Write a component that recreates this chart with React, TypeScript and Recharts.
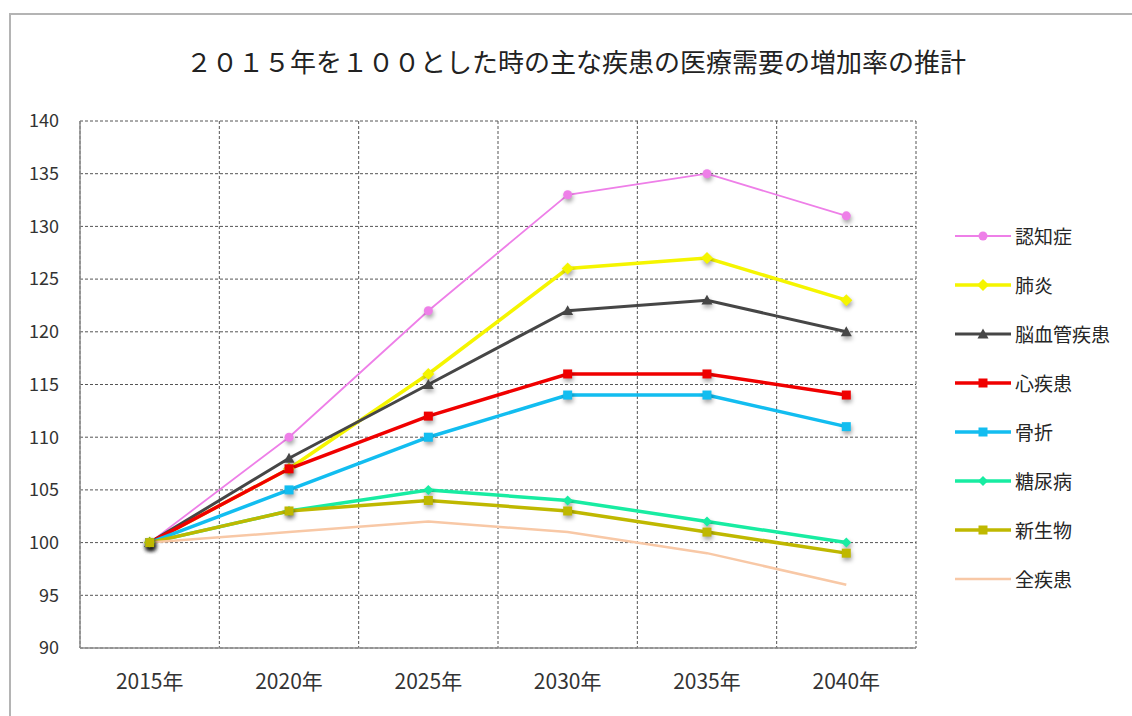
import { CartesianGrid, Line, LineChart, XAxis, YAxis } from 'recharts'

// 2015年を100とした指数
const years = ['2015年', '2020年', '2025年', '2030年', '2035年', '2040年']
const dementia = [100, 110, 122, 133, 135, 131]
const pneumonia = [100, 107, 116, 126, 127, 123]
const cerebrovascular = [100, 108, 115, 122, 123, 120]
const heart = [100, 107, 112, 116, 116, 114]
const fracture = [100, 105, 110, 114, 114, 111]
const diabetes = [100, 103, 105, 104, 102, 100]
const neoplasm = [100, 103, 104, 103, 101, 99]
const allDiseases = [100, 101, 102, 101, 99, 96]
const yTicks = [90, 95, 100, 105, 110, 115, 120, 125, 130, 135, 140]

const FONT = '"Noto Sans CJK JP", "Noto Sans", sans-serif'

type Marker = 'circle' | 'diamond' | 'triangle' | 'square' | 'none'

const SERIES: { key: string; name: string; values: number[]; color: string; width: number; marker: Marker; size: number }[] = [
  { key: 'dementia', name: '認知症', values: dementia, color: '#ee7fe8', width: 1.8, marker: 'circle', size: 4.5 },
  { key: 'pneumonia', name: '肺炎', values: pneumonia, color: '#f5f500', width: 3.5, marker: 'diamond', size: 6 },
  { key: 'cerebrovascular', name: '脳血管疾患', values: cerebrovascular, color: '#464646', width: 3, marker: 'triangle', size: 5.5 },
  { key: 'heart', name: '心疾患', values: heart, color: '#f00000', width: 3.5, marker: 'square', size: 4.5 },
  { key: 'fracture', name: '骨折', values: fracture, color: '#12bdf0', width: 3.5, marker: 'square', size: 4.5 },
  { key: 'diabetes', name: '糖尿病', values: diabetes, color: '#18eca2', width: 3.5, marker: 'diamond', size: 5 },
  { key: 'neoplasm', name: '新生物', values: neoplasm, color: '#bfb800', width: 3.5, marker: 'square', size: 4.5 },
  { key: 'all', name: '全疾患', values: allDiseases, color: '#f8c8a6', width: 2.5, marker: 'none', size: 0 },
]

const data = years.map((year, i) => {
  const row: Record<string, string | number> = { year }
  SERIES.forEach((s) => {
    row[s.key] = s.values[i]
  })
  return row
})

function markerShape(marker: Marker, cx: number, cy: number, r: number, color: string, key?: string) {
  switch (marker) {
    case 'circle':
      return <circle key={key} cx={cx} cy={cy} r={r} fill={color} />
    case 'diamond':
      return (
        <polygon
          key={key}
          points={`${cx},${cy - r} ${cx + r},${cy} ${cx},${cy + r} ${cx - r},${cy}`}
          fill={color}
        />
      )
    case 'triangle':
      return (
        <polygon
          key={key}
          points={`${cx},${cy - r} ${cx + r},${cy + r * 0.8} ${cx - r},${cy + r * 0.8}`}
          fill={color}
        />
      )
    case 'square':
      return <rect key={key} x={cx - r} y={cy - r} width={r * 2} height={r * 2} fill={color} />
    default:
      return <g key={key} />
  }
}

function makeDot(s: (typeof SERIES)[number]) {
  return (props: any) => {
    const { cx, cy, index } = props
    const key = `${s.key}-${index}`
    if (s.marker === 'none' || cx == null || cy == null) return <g key={key} />
    return (
      <g key={key} style={{ filter: 'drop-shadow(1px 3px 2px rgba(0,0,0,0.35))' }}>
        {markerShape(s.marker, cx, cy, s.size, s.color)}
      </g>
    )
  }
}

// 凡例はグラフの右側に縦並びで置く
function LegendBox() {
  return (
    <div style={{ position: 'absolute', left: 955, top: 211, width: 177, fontFamily: FONT }}>
      {SERIES.map((s) => (
        <div key={s.key} style={{ display: 'flex', alignItems: 'center', height: 49 }}>
          <svg width={58} height={16} style={{ overflow: 'visible' }}>
            <line x1={0} x2={56} y1={8} y2={8} stroke={s.color} strokeWidth={s.width} />
            {markerShape(s.marker, 28, 8, s.size, s.color)}
          </svg>
          <span style={{ fontSize: 19, color: '#262626', marginLeft: 2 }}>{s.name}</span>
        </div>
      ))}
    </div>
  )
}

export default function App() {
  return (
    <div
      style={{
        position: 'absolute',
        left: 0,
        top: 0,
        width: 1132,
        height: 716,
        overflow: 'hidden',
        background: '#fff',
        fontFamily: FONT,
      }}
    >
      <div
        style={{
          position: 'absolute',
          left: 9,
          top: 13,
          width: 1300,
          height: 900,
          borderLeft: '2px solid #b4b4b4',
          borderTop: '2px solid #b4b4b4',
        }}
      />
      <div
        style={{
          position: 'absolute',
          left: 0,
          width: 1152,
          top: 43,
          textAlign: 'center',
          fontSize: 26,
          color: '#222',
          lineHeight: '36px',
        }}
      >
        ２０１５年を１００とした時の主な疾患の医療需要の増加率の推計
      </div>
      <div style={{ position: 'absolute', left: 0, top: 0 }}>
        <LineChart width={1132} height={716} data={data} margin={{ top: 121, right: 216, bottom: 0, left: 20 }}>
          <CartesianGrid
            stroke="#555"
            strokeDasharray="3 2"
            verticalCoordinatesGenerator={(args: any) => {
              const left = args?.offset?.left ?? 80
              const width = args?.offset?.width ?? 836
              return years.map((_, i) => left + (i * width) / years.length).concat(left + width)
            }}
          />
          <XAxis
            dataKey="year"
            height={68}
            padding={{ left: 69.7, right: 69.7 }}
            axisLine={{ stroke: '#8c8c8c', strokeWidth: 1.5 }}
            tickLine={false}
            tickSize={0}
            tickMargin={26}
            tick={{ fill: '#333', fontSize: 21, fontFamily: FONT }}
          />
          <YAxis
            width={60}
            domain={[90, 140]}
            ticks={yTicks}
            interval={0}
            axisLine={{ stroke: '#8c8c8c', strokeWidth: 1.5 }}
            tickLine={false}
            tickSize={0}
            tickMargin={21}
            tick={{ fill: '#333', fontSize: 18, fontFamily: FONT }}
          />
          {SERIES.map((s) => (
            <Line
              key={s.key}
              dataKey={s.key}
              name={s.name}
              type="linear"
              stroke={s.color}
              strokeWidth={s.width}
              dot={makeDot(s)}
              activeDot={false}
              isAnimationActive={false}
            />
          ))}
        </LineChart>
      </div>
      <LegendBox />
    </div>
  )
}
